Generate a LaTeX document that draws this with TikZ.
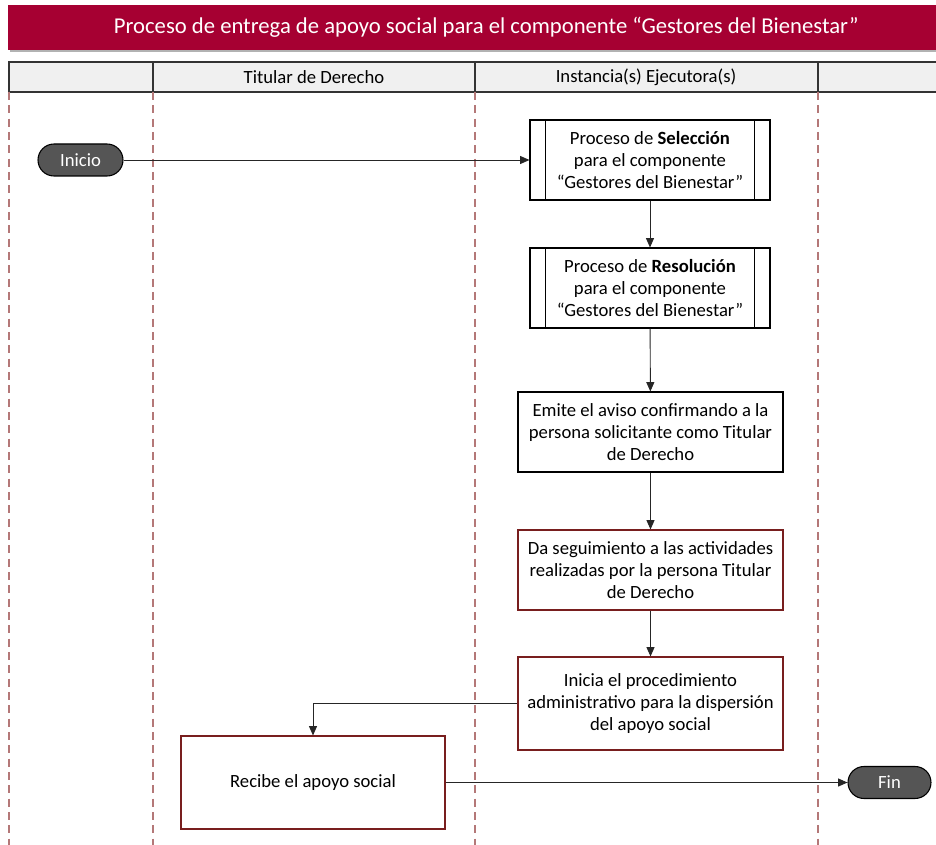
\documentclass[tikz,border=0pt]{standalone}
\usepackage{fontspec}
\setmainfont{Carlito}
\usetikzlibrary{arrows.meta,positioning}
\definecolor{titlered}{RGB}{166,0,50}
\definecolor{lanered}{RGB}{180,120,120}
\definecolor{boxred}{RGB}{120,30,30}
\definecolor{pillgray}{RGB}{85,85,85}
\definecolor{headgray}{RGB}{240,240,240}
\tikzset{
  lane/.style={draw=lanered, dash pattern=on 6pt off 4pt, line width=0.8pt},
  stepbox/.style={draw=black, line width=0.8pt, fill=white, align=center, inner sep=0pt,
    font=\fontsize{14}{16.5}\selectfont},
  redbox/.style={stepbox, draw=boxred},
  pill/.style={draw=black, fill=pillgray, rounded corners=12pt, text=white, inner sep=0pt,
    font=\fontsize{14}{16}\selectfont, line width=0.8pt},
  conn/.style={draw=black!85, line width=0.7pt, -{Triangle[length=7pt,width=6pt]}},
}
\begin{document}
\begin{tikzpicture}[x=0.75pt,y=-0.75pt]
\useasboundingbox (0,0) rectangle (936,845);
% title
\fill[black!30] (10,7) rectangle (966,52);
\node[fill=titlered, minimum width=956*0.75pt, minimum height=45*0.75pt, anchor=north west, inner sep=0pt,
  text=white, font=\fontsize{17}{20}\selectfont] (title) at (8,5)
  {Proceso de entrega de apoyo social para el componente “Gestores del Bienestar”};
% header
\draw[fill=headgray, draw=black!80, line width=0.9pt] (9,62) rectangle (940,92);
\draw[black!80, line width=0.9pt] (153,62) -- (153,92) (475,62) -- (475,92) (818,62) -- (818,92);
\node[font=\fontsize{14}{16}\selectfont] (h1) at (314,77) {Titular de Derecho};
\node[font=\fontsize{14}{16}\selectfont] (h2) at (646,77) {Instancia(s) Ejecutora(s)};
% lanes
\foreach \x in {9,153,475,818} \draw[lane] (\x,92) -- (\x,845);
% nodes
\node[pill, minimum width=85*0.75pt, minimum height=32*0.75pt] (inicio) at (80.5,160) {Inicio};
\node[stepbox, minimum width=240*0.75pt, minimum height=80*0.75pt] (b1) at (650,160)
  {Proceso de \textbf{Selección}\\para el componente\\“Gestores del Bienestar”};
\draw[line width=0.8pt] ([xshift=16*0.75pt]b1.north west) -- ([xshift=16*0.75pt]b1.south west)
  ([xshift=-16*0.75pt]b1.north east) -- ([xshift=-16*0.75pt]b1.south east);
\node[stepbox, minimum width=240*0.75pt, minimum height=80*0.75pt] (b2) at (650,288)
  {Proceso de \textbf{Resolución}\\para el componente\\“Gestores del Bienestar”};
\draw[line width=0.8pt] ([xshift=16*0.75pt]b2.north west) -- ([xshift=16*0.75pt]b2.south west)
  ([xshift=-16*0.75pt]b2.north east) -- ([xshift=-16*0.75pt]b2.south east);
\node[stepbox, minimum width=265*0.75pt, minimum height=80*0.75pt] (b3) at (650.5,432)
  {Emite el aviso confirmando a la\\persona solicitante como Titular\\de Derecho};
\node[redbox, minimum width=265*0.75pt, minimum height=80*0.75pt] (b4) at (650.5,570)
  {Da seguimiento a las actividades\\realizadas por la persona Titular\\de Derecho};
\node[redbox, minimum width=265*0.75pt, minimum height=93*0.75pt] (b5) at (650.5,703.5)
  {Inicia el procedimiento\\administrativo para la dispersión\\del apoyo social};
\node[redbox, minimum width=264*0.75pt, minimum height=93*0.75pt] (b6) at (313,782.5)
  {Recibe el apoyo social};
\node[pill, minimum width=83*0.75pt, minimum height=32*0.75pt] (fin) at (889.5,782.5) {Fin};
% connectors
\draw[conn] (inicio) -- (b1);
\draw[conn] (b1) -- (b2);
\draw[conn] (b2) -- (b3);
\draw[conn] (b3) -- (b4);
\draw[conn] (b4) -- (b5);
\draw[conn] (b5.west) -| (b6.north);
\draw[conn] (b6) -- (fin);
\end{tikzpicture}
\end{document}
